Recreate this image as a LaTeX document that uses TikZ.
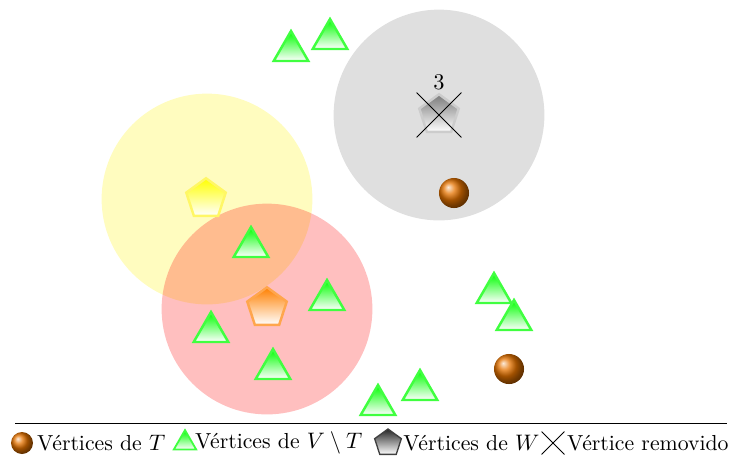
\documentclass[tikz,border=0pt]{standalone}
\usetikzlibrary{shapes.geometric, shapes.misc, positioning}

\begin{document}
\begin{tikzpicture}[
    x=0.446pt, y=-0.446pt,
    every node/.style={font=\fontsize{9.7pt}{11.5pt}\selectfont},
    zone/.style={circle, minimum size=94pt, inner sep=0pt, fill opacity=0.25},
    tvert/.style={circle, inner sep=0pt, minimum size=13.4pt, ball color=orange!90!black},
    vvert/.style={regular polygon, regular polygon sides=3, inner sep=0pt, minimum size=17.8pt, top color=green, bottom color=white, draw=green!75, line width=1.1pt},
    wvert/.style={regular polygon, regular polygon sides=5, inner sep=0pt, minimum size=18.5pt, line width=1.1pt},
    removed/.style={cross out, draw=black, minimum size=19.6pt, inner sep=0pt},
    legtext/.style={inner sep=0.5pt}
]
\useasboundingbox (0,0) rectangle (735,461);

% ZONES
\node[zone, fill=yellow] (zy) at (207,199) {};
\node[zone, fill=red] (zr) at (267,309) {};
\node[zone, fill=gray] (zg) at (439,115) {};

% VERTICES OF W
\node[wvert, top color=yellow, bottom color=white, draw=yellow!60] (w1) at (206,199) {};
\node[wvert, top color=orange, bottom color=white, draw=orange!70] (w2) at (267,308) {};
\node[wvert, top color=gray!95!black, bottom color=white, draw=gray!40] (w3) at (439,115) {};
\node[removed, label={[inner sep=1pt]above:$3$}] (x3) at (439,115) {};

% VERTICES OF T
\node[tvert] (t1) at (454,193) {};
\node[tvert] (t2) at (509,369) {};

% VERTICES OF V \ T
\node[vvert] (v1) at (291,51) {};
\node[vvert] (v2) at (330,39) {};
\node[vvert] (v3) at (251,247) {};
\node[vvert] (v4) at (327,300) {};
\node[vvert] (v5) at (211,332) {};
\node[vvert] (v6) at (273,369) {};
\node[vvert] (v7) at (494,293) {};
\node[vvert] (v8) at (514,320) {};
\node[vvert] (v9) at (378,405) {};
\node[vvert] (v10) at (420,390) {};

% LEGEND
\coordinate (sepl) at (15,423);
\coordinate (sepr) at (727,423);
\draw (sepl) -- (sepr);

\node[tvert, minimum size=9.8pt] (lt) at (22,443) {};
\node[legtext, right=1pt of lt] (ltt) {Vértices de $T$};
\node[vvert, minimum size=11.5pt, line width=0.8pt] (lv) at (185,443) {};
\node[legtext, anchor=west] (lvt) at (lv.east |- ltt) {Vértices de $V\setminus T$};
\node[wvert, minimum size=12.5pt, line width=0.6pt, top color=black!85, bottom color=white, draw=black!75] (lw) at (388,443) {};
\node[legtext, right=0.5pt of lw] (lwt) {Vértices de $W$};
\node[removed, minimum size=9.8pt] (lx) at (553,443) {};
\node[legtext, right=0.5pt of lx] (lxt) {Vértice removido};

\end{tikzpicture}
\end{document}
